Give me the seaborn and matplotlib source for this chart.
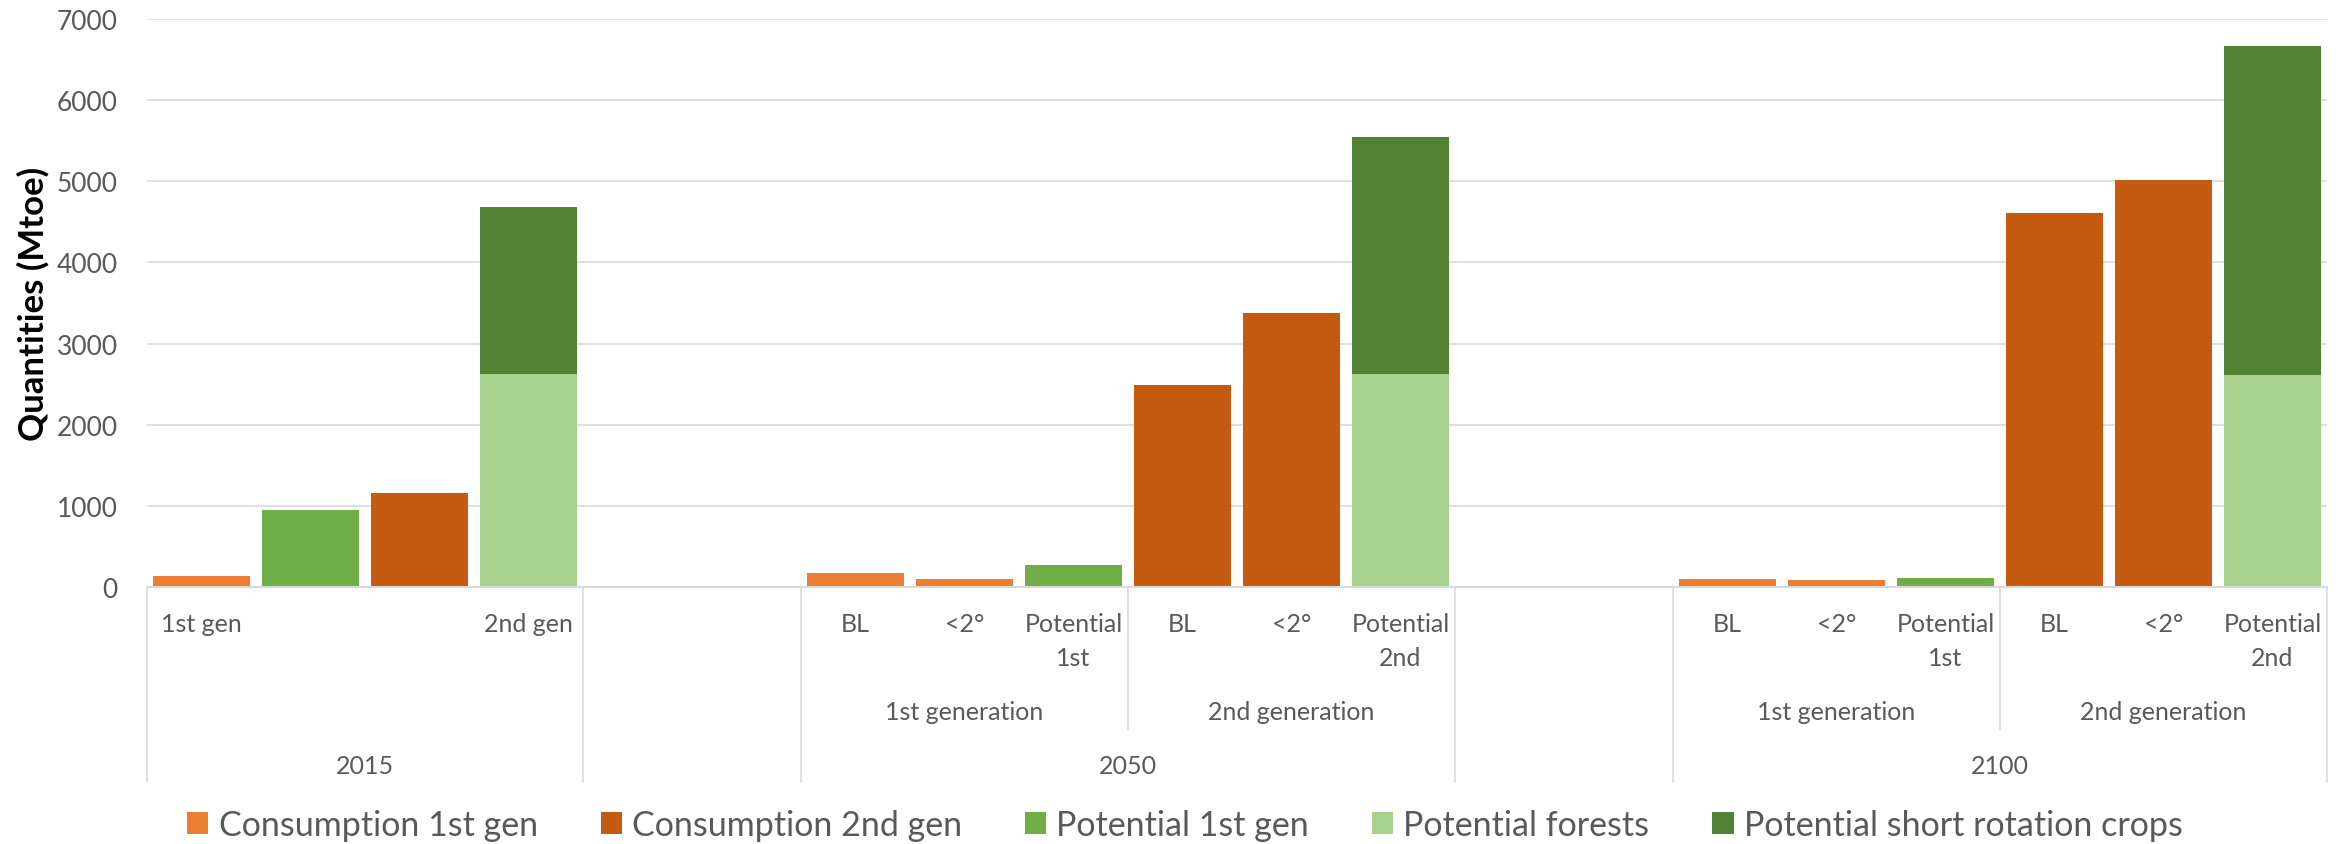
import numpy as np
import pandas as pd
import matplotlib
matplotlib.use("Agg")
import matplotlib.pyplot as plt
import matplotlib.transforms as mtransforms
from matplotlib import font_manager
from matplotlib.lines import Line2D
from matplotlib.patches import Patch
import seaborn as sns

nan = np.nan

# ---- category structure: 20 slots along the x axis ----
slot_labels = ["1st gen", "", "", "2nd gen",
               "", "",
               "BL", "<2°", "Potential\n1st", "BL", "<2°", "Potential\n2nd",
               "", "",
               "BL", "<2°", "Potential\n1st", "BL", "<2°", "Potential\n2nd"]
generation_labels = ["1st generation", "2nd generation",
                     "1st generation", "2nd generation"]
generation_centers = [7, 10, 15, 18]
year_labels = ["2015", "2050", "2100"]
year_centers = [1.5, 8.5, 16.5]

# ---- series values (Mtoe) per slot ----
consumption_1st_gen = [135, nan, nan, nan, nan, nan, 177, 103, nan, nan,
                       nan, nan, nan, nan, 99, 90, nan, nan, nan, nan]
consumption_2nd_gen = [nan, nan, 1160, nan, nan, nan, nan, nan, nan, 2490,
                       3380, nan, nan, nan, nan, nan, nan, 4610, 5010, nan]
potential_1st_gen = [nan, 950, nan, nan, nan, nan, nan, nan, 267, nan,
                     nan, nan, nan, nan, nan, nan, 111, nan, nan, nan]
potential_forests = [nan, nan, nan, 2620, nan, nan, nan, nan, nan, nan,
                     nan, 2630, nan, nan, nan, nan, nan, nan, nan, 2610]
potential_src = [nan, nan, nan, 2060, nan, nan, nan, nan, nan, nan,
                 nan, 2920, nan, nan, nan, nan, nan, nan, nan, 4060]

series_names = ["Consumption 1st gen", "Consumption 2nd gen", "Potential 1st gen",
                "Potential forests", "Potential short rotation crops"]
series_colors = ["#ED7D31", "#C55A11", "#70AD47", "#A9D18E", "#548235"]

# ---- fonts ----
sns.set_theme(style="white")
installed = {f.name for f in font_manager.fontManager.ttflist}
base_font = next(f for f in ["Lato", "Liberation Sans", "DejaVu Sans"] if f in installed)
plt.rcParams["font.family"] = [base_font, "DejaVu Sans"]

TXT = "#595959"
GRID = "#D9D9D9"

# ---- long-form table; the stacked column is drawn as its cumulative top
#      with the forests part painted over it ----
slot_ids = [f"c{i:02d}" for i in range(len(slot_labels))]
stack_top = list(np.array(potential_forests) + np.array(potential_src))
layers = [
    ("Consumption 1st gen", consumption_1st_gen),
    ("Consumption 2nd gen", consumption_2nd_gen),
    ("Potential 1st gen", potential_1st_gen),
    ("Potential short rotation crops", stack_top),
    ("Potential forests", potential_forests),
]
rows = []
for name, vals in layers:
    for sid, v in zip(slot_ids, vals):
        if not np.isnan(v):
            rows.append({"slot": sid, "series": name, "value": v})
df = pd.DataFrame(rows)
layer_order = [name for name, _ in layers]
palette = dict(zip(series_names, series_colors))

W, H = 2349, 845
fig = plt.figure(figsize=(W / 100, H / 100), dpi=100)
ax_left, ax_right, ax_top, ax_bottom = 147, 2327, 20, 588
ax = fig.add_axes([ax_left / W, 1 - ax_bottom / H,
                   (ax_right - ax_left) / W, (ax_bottom - ax_top) / H])

sns.barplot(data=df, x="slot", y="value", hue="series", hue_order=layer_order,
            order=slot_ids, palette=palette, dodge=False, width=0.885,
            saturation=1, errorbar=None, linewidth=0, legend=False, ax=ax)

ax.set_xlim(-0.5, len(slot_ids) - 0.5)
ax.set_ylim(0, 7000)
ax.set_yticks(range(0, 7001, 1000))
ax.set_xticks([])
ax.set_xlabel("")
ax.set_ylabel("")
for s in ax.spines.values():
    s.set_visible(False)
ax.grid(axis="y", color=GRID, linewidth=1.2)
ax.set_axisbelow(True)
ax.tick_params(axis="y", length=0, pad=21, labelsize=19, labelcolor=TXT)
ax.axhline(0, color=GRID, linewidth=1.5, clip_on=False, zorder=3)

fig.text(33 / W, 1 - 304 / H, "Quantities (Mtoe)", rotation=90, ha="center",
         va="center", fontsize=25, fontweight="bold", color="black")

# ---- multi-level category axis ----
tr = mtransforms.blended_transform_factory(ax.transData, fig.transFigure)
fy = lambda px: 1 - px / H
for i, lab in enumerate(slot_labels):
    for k, line in enumerate(lab.split("\n")):
        ax.text(i, fy(625 + 34 * k), line, transform=tr, ha="center", va="center",
                fontsize=18, color=TXT, clip_on=False)
for x, lab in zip(generation_centers, generation_labels):
    ax.text(x, fy(713), lab, transform=tr, ha="center", va="center",
            fontsize=18, color=TXT, clip_on=False)
for x, lab in zip(year_centers, year_labels):
    ax.text(x, fy(767), lab, transform=tr, ha="center", va="center",
            fontsize=18, color=TXT, clip_on=False)

for x in [-0.5, 3.5, 5.5, 11.5, 13.5, 19.5]:
    ax.add_line(Line2D([x, x], [fy(588), fy(783)], transform=tr, color=GRID,
                       linewidth=1.2, clip_on=False))
for x in [8.5, 16.5]:
    ax.add_line(Line2D([x, x], [fy(588), fy(730)], transform=tr, color=GRID,
                       linewidth=1.2, clip_on=False))

handles = [Patch(facecolor=c, edgecolor="none", label=n)
           for n, c in zip(series_names, series_colors)]
fig.legend(handles=handles, loc="center", bbox_to_anchor=(1185 / W, fy(826)),
           ncol=5, frameon=False, fontsize=24.5, handlelength=0.62, handleheight=0.62,
           handletextpad=0.3, columnspacing=1.85, labelcolor=TXT, borderpad=0)

fig.savefig("out.png", dpi=100)
